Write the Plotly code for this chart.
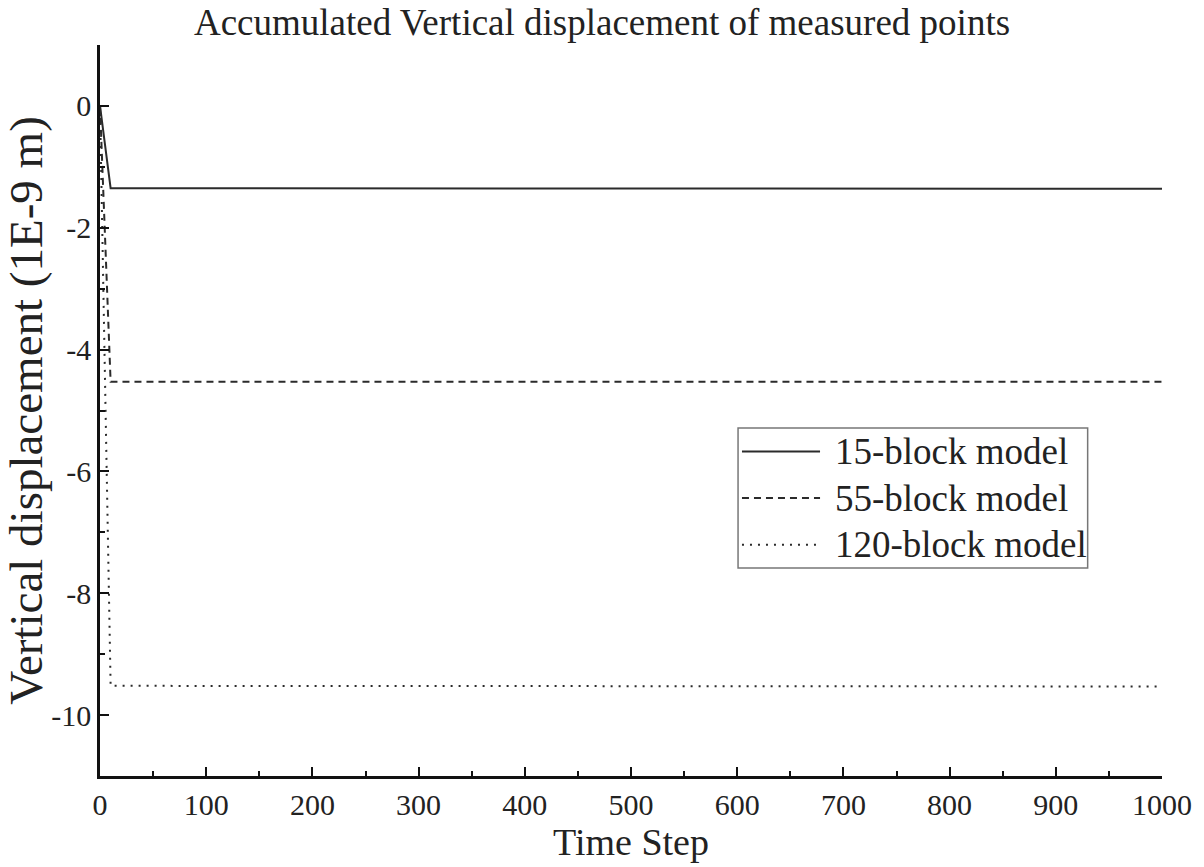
import plotly.graph_objects as go

# Time steps and accumulated vertical displacement (1E-9 m) for each model
steps = [0, 10, 1000]
disp_15 = [0.0, -1.35, -1.36]
disp_55 = [0.0, -4.53, -4.53]
disp_120 = [0.0, -9.52, -9.53]

names = ["15-block model", "55-block model", "120-block model"]
values = [disp_15, disp_55, disp_120]
dashes = ["solid", "7px,5px", "2px,6px"]

x_ticks = list(range(0, 1001, 100))
y_ticks = [-10, -8, -6, -4, -2, 0]
y_ticktext = [str(v) for v in y_ticks]

FONT = "Liberation Serif"
INK = "#2b2b2b"
TXT = "#222"

fig = go.Figure()
for name, ys, dash in zip(names, values, dashes):
    fig.add_trace(go.Scatter(
        x=steps, y=ys, mode="lines", name=name, showlegend=False,
        line=dict(color=INK, width=2, dash=dash),
    ))

axis_common = dict(
    showgrid=False, zeroline=False, showline=True,
    linecolor="#111", linewidth=2.5, mirror=False,
    ticks="inside", ticklen=9, tickwidth=2, tickcolor="#111",
    tickfont=dict(family=FONT, size=30, color=TXT),
)

fig.update_layout(
    width=1204, height=867,
    paper_bgcolor="white", plot_bgcolor="white",
    margin=dict(l=100, r=42, t=45, b=91),
    title=dict(text="Accumulated Vertical displacement of measured points",
               x=0.5, xanchor="center", y=0.975, yanchor="middle",
               font=dict(family=FONT, size=37, color=TXT)),
    xaxis=dict(range=[0, 1000], tickvals=x_ticks,
               minor=dict(ticks="inside", ticklen=5, tickwidth=2, tickcolor="#111", dtick=50),
               title=dict(text="Time Step", font=dict(family=FONT, size=38, color=TXT), standoff=8),
               **axis_common),
    yaxis=dict(range=[-11, 1], tickvals=y_ticks, ticktext=y_ticktext,
               minor=dict(ticks="inside", ticklen=5, tickwidth=2, tickcolor="#111", dtick=1, tick0=1),
               title=dict(text="Vertical displacement (1E-9 m)", font=dict(family=FONT, size=47, color=TXT), standoff=2),
               **axis_common),
    showlegend=False,
)

# Legend box with long line samples
box_x0, box_x1 = 0.6008, 0.930
box_y0, box_y1 = 0.2845, 0.476
fig.add_shape(type="rect", xref="paper", yref="paper",
              x0=box_x0, x1=box_x1, y0=box_y0, y1=box_y1,
              line=dict(color="#777", width=1.5), fillcolor="white", layer="above")
row_h = (box_y1 - box_y0) / 3
for i, (name, dash) in enumerate(zip(names, dashes)):
    yc = box_y1 - row_h * (i + 0.5)
    fig.add_shape(type="line", xref="paper", yref="paper",
                  x0=0.6045, x1=0.678, y0=yc, y1=yc,
                  line=dict(color=INK, width=2, dash=dash), layer="above")
    fig.add_annotation(xref="paper", yref="paper", x=0.690, y=yc,
                       xanchor="left", yanchor="middle", showarrow=False,
                       text=name, font=dict(family=FONT, size=37, color=TXT))

fig.write_html("out.html")
